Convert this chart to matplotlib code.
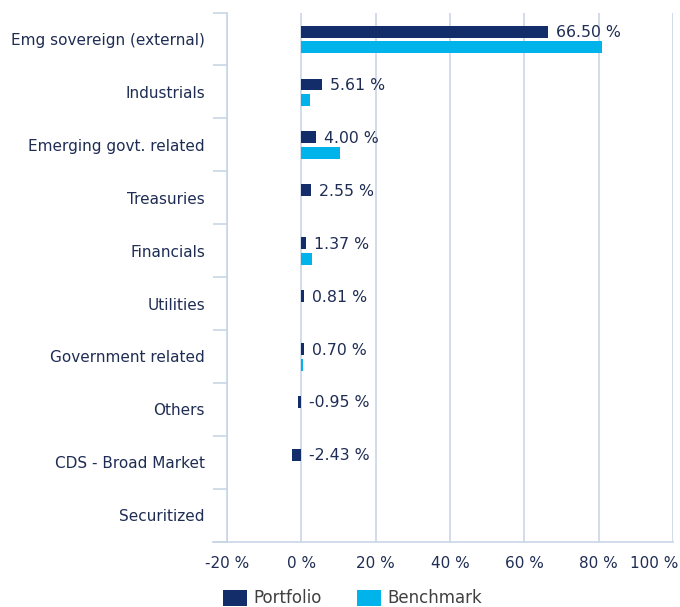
import matplotlib
matplotlib.use("Agg")
import matplotlib.pyplot as plt
import matplotlib.transforms as mtransforms
import numpy as np

categories = ["Emg sovereign (external)", "Industrials", "Emerging govt. related",
              "Treasuries", "Financials", "Utilities", "Government related",
              "Others", "CDS - Broad Market", "Securitized"]
portfolio = [66.50, 5.61, 4.00, 2.55, 1.37, 0.81, 0.70, -0.95, -2.43, 0.0]
benchmark = [81.0, 2.4, 10.3, 0.0, 2.8, 0.0, 0.5, 0.0, 0.0, 0.0]
labels = ["66.50 %", "5.61 %", "4.00 %", "2.55 %", "1.37 %", "0.81 %", "0.70 %",
          "-0.95 %", "-2.43 %", ""]
xticks = [-20, 0, 20, 40, 60, 80, 100]
xticklabels = ["-20 %", "0 %", "20 %", "40 %", "60 %", "80 %", "100 %"]

navy = "#132D6A"
cyan = "#00B4EB"
txt = "#1F2D54"
grid = "#C9D5E6"

fig = plt.figure(figsize=(6.8, 6.07), dpi=100)
ax = fig.add_axes([227/680, 1-541.7/607, (673-227)/680, (541.7-12.5)/607])

n = len(categories)
y = np.arange(n)
h = 0.225
p_off, b_off = -0.14, 0.16
ax.barh(y + p_off, portfolio, height=h, color=navy, zorder=3, label="Portfolio")
ax.barh(y + b_off, benchmark, height=h, color=cyan, zorder=3, label="Benchmark")

for i, (v, lab) in enumerate(zip(portfolio, labels)):
    if lab:
        ax.annotate(lab, xy=(max(v, 0), i + p_off), xytext=(8, -1),
                    textcoords="offset pixels",
                    va="center", ha="left", fontsize=11.3, color=txt)

ax.set_xlim(-20, 100)
ax.set_ylim(n - 0.5, -0.5)
ax.set_xticks(xticks)
ax.set_xticklabels(xticklabels)
ax.set_yticks(np.arange(n + 1) - 0.5, minor=False)
ax.set_yticklabels([])
ax.set_yticks(y, minor=True)
ax.set_yticklabels(categories, minor=True)
ax.tick_params(axis="y", which="major", length=14 * 72 / 100, color=grid, width=1.2)
ax.tick_params(axis="y", which="minor", length=0, pad=22 * 72 / 100, labelsize=11, labelcolor=txt)
ax.tick_params(axis="x", length=0, pad=10, labelsize=11, labelcolor=txt)
xl = ax.get_xticklabels()
xl[-1].set_transform(xl[-1].get_transform() + mtransforms.ScaledTranslation(-19/100, 0, fig.dpi_scale_trans))

ax.grid(axis="x", color=grid, linewidth=1.2, zorder=0)
for s in ["top", "right"]:
    ax.spines[s].set_visible(False)
for s in ["left", "bottom"]:
    ax.spines[s].set_color(grid)
    ax.spines[s].set_linewidth(1.2)
ax.spines["bottom"].set_bounds(-20 - 14 / 3.717, 100)
ax.spines["bottom"].set_zorder(1)
ax.set_facecolor("white")

leg = fig.legend(handles=ax.patches[:1] + ax.patches[n:n+1], labels=["Portfolio", "Benchmark"],
                 loc="lower left", bbox_to_anchor=(208/680, -0.025), ncol=2, frameon=False,
                 fontsize=12, handlelength=1.44, handleheight=1.1, columnspacing=2.15,
                 handletextpad=0.36, labelcolor="#404040")

fig.savefig("out.png", dpi=100, facecolor="white")
